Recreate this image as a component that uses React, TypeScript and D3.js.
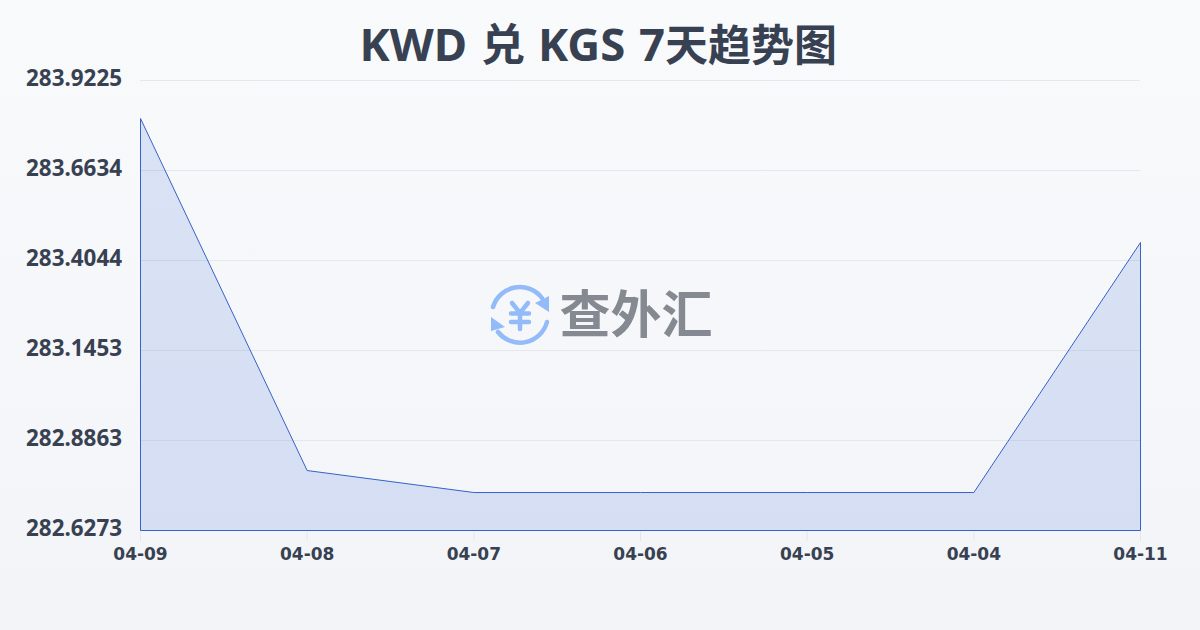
import React from "react";
import * as d3 from "d3";

const dates = ["04-09", "04-08", "04-07", "04-06", "04-05", "04-04", "04-11"];
const rates = [283.8131, 282.7999, 282.7366, 282.7366, 282.7366, 282.7366, 283.4562];
const yTicks = [282.6273, 282.8863, 283.1453, 283.4044, 283.6634, 283.9225];
const yLabels = ["282.6273", "282.8863", "283.1453", "283.4044", "283.6634", "283.9225"];
const watermark = "查外汇";

const W = 1200, H = 630;
const noto = "'Noto Sans', 'Noto Sans CJK SC', sans-serif";
const dejavu = "'DejaVu Sans', sans-serif";
const ink = "#374151";
const blue = "#3563c8";
const iconBlue = "#93baf9";

export default function App() {
  const x = d3.scalePoint<string>().domain(dates).range([140.5, 1140.5]);
  const y = d3.scaleLinear().domain([yTicks[0], yTicks[yTicks.length - 1]]).range([530.5, 80.5]);
  const pts = dates.map((d, i) => [x(d)!, y(rates[i])] as [number, number]);
  const outline = d3.line()([[pts[0][0], y.range()[0]], ...pts, [pts[pts.length - 1][0], y.range()[0]]]) + "Z";

  return (
    <svg width={W} height={H} viewBox={`0 0 ${W} ${H}`} style={{ position: "fixed", left: 0, top: 0, display: "block" }}>
      <defs>
        <linearGradient id="bg" x1="0" y1="0" x2="0" y2="1">
          <stop offset="0" stopColor="#f9fafc" />
          <stop offset="1" stopColor="#f3f4f7" />
        </linearGradient>
      </defs>
      <rect width={W} height={H} fill="url(#bg)" />
      <text y={61} fontFamily={noto} fontWeight={700} fill={ink}>
        <tspan x={359.5} fontSize={45.5}>KWD</tspan>
        <tspan x={481} fontSize={44}>兑</tspan>
        <tspan x={538} fontSize={45.5}>KGS</tspan>
        <tspan x={639} fontSize={45.5}>7</tspan>
        <tspan x={665} fontSize={43}>天趋势图</tspan>
      </text>

      {yTicks.map((t) => (
        <line key={t} x1={140} x2={1140} y1={Math.round(y(t) - 0.5) + 0.5} y2={Math.round(y(t) - 0.5) + 0.5} stroke="#e5e7eb" strokeWidth={1} />
      ))}
      {yTicks.map((t, i) => (
        <text key={t} x={122} y={y(t) + 5.5} textAnchor="end" fontFamily={noto} fontWeight={700} fontSize={22.4} fill={ink}>{yLabels[i]}</text>
      ))}

      <path d={outline} fill="#2f5fd8" fillOpacity={0.15} stroke={blue} strokeWidth={1} />

      {dates.map((d) => (
        <g key={d}>
          <line x1={x(d)!} x2={x(d)!} y1={531} y2={541} stroke="#e5e7eb" />
          <text x={x(d)!} y={560} textAnchor="middle" fontFamily={dejavu} fontWeight={700} fontSize={17} fill={ink}>{d}</text>
        </g>
      ))}

      <g>
        <g fill="none" stroke={iconBlue} strokeWidth={4.5} strokeLinecap="round">
          <path d="M493 307 A28 28 0 0 1 542 298" />
          <path d="M547 322 A28 28 0 0 1 498 332" />
          <path d="M512 303 L520 313 L528 303 M520 313 V329 M511 313.5 H529 M511 322 H529" />
        </g>
        <path d="M549 296 V312 L535 303 Z" fill={iconBlue} />
        <path d="M491 317 V331 L505 327 Z" fill={iconBlue} />
        <text x={636} y={333} textAnchor="middle" fontFamily={noto} fontWeight={700} fontSize={51} fill="#858991">{watermark}</text>
      </g>
    </svg>
  );
}
